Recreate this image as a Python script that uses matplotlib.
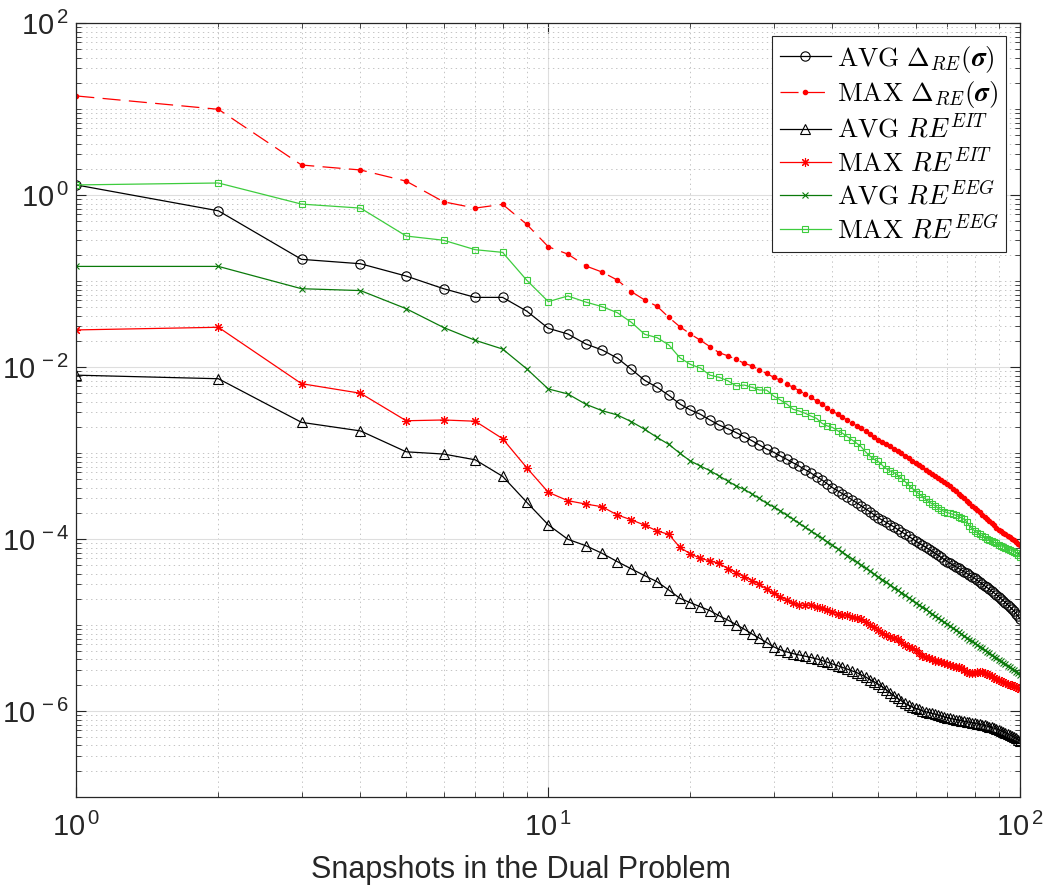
import numpy as np
import matplotlib
matplotlib.use("Agg")
import matplotlib.pyplot as plt
from matplotlib.ticker import FixedLocator, NullFormatter

plt.rcParams["font.family"] = ["Liberation Sans", "DejaVu Sans"]
plt.rcParams["mathtext.fontset"] = "cm"
plt.rcParams["lines.scale_dashes"] = False

# Number of snapshots used in the dual problem
snapshots = np.arange(1, 101)

avg_delta = [1.32, 0.66, 0.18, 0.16, 0.115, 0.082, 0.065, 0.065, 0.045, 0.0284,
             0.0244, 0.0187, 0.0159, 0.0128, 0.00947, 0.00705, 0.00585, 0.00472, 0.00374, 0.00319,
             0.00284, 0.00244, 0.00213, 0.00193, 0.00174, 0.00156, 0.00140, 0.00125, 0.00112, 0.00103,
             9.33e-4, 8.51e-4, 7.76e-4, 7.08e-4, 6.46e-4, 5.89e-4, 5.37e-4, 4.90e-4, 4.42e-4, 3.98e-4,
             3.67e-4, 3.39e-4, 3.13e-4, 2.88e-4, 2.66e-4, 2.45e-4, 2.26e-4, 2.09e-4, 1.93e-4, 1.78e-4,
             1.67e-4, 1.57e-4, 1.48e-4, 1.39e-4, 1.30e-4, 1.22e-4, 1.15e-4, 1.08e-4, 1.02e-4, 9.55e-5,
             9.03e-5, 8.55e-5, 8.09e-5, 7.66e-5, 7.24e-5, 6.85e-5, 6.49e-5, 6.14e-5, 5.81e-5, 5.50e-5,
             5.25e-5, 5.02e-5, 4.81e-5, 4.59e-5, 4.40e-5, 4.20e-5, 4.02e-5, 3.84e-5, 3.67e-5, 3.51e-5,
             3.34e-5, 3.18e-5, 3.03e-5, 2.88e-5, 2.75e-5, 2.62e-5, 2.49e-5, 2.38e-5, 2.26e-5, 2.15e-5,
             2.04e-5, 1.94e-5, 1.83e-5, 1.74e-5, 1.64e-5, 1.55e-5, 1.46e-5, 1.36e-5, 1.27e-5, 1.17e-5]

max_delta = [14.3, 10.0, 2.25, 1.97, 1.46, 0.84, 0.71, 0.785, 0.46, 0.252,
             0.207, 0.151, 0.128, 0.1035, 0.0757, 0.0607, 0.0512, 0.0381, 0.0296, 0.0244,
             0.0206, 0.0174, 0.0148, 0.0136, 0.0124, 0.0111, 0.0104, 0.0093, 0.0085, 0.00766,
             0.00708, 0.00638, 0.00585, 0.00535, 0.0049, 0.00447, 0.00407, 0.00372, 0.00339, 0.00310,
             0.00285, 0.00263, 0.00243, 0.00225, 0.00209, 0.00195, 0.00180, 0.00166, 0.00154, 0.00143,
             0.00135, 0.00127, 0.00120, 0.00112, 0.00106, 0.00100, 9.33e-4, 8.71e-4, 8.13e-4, 7.66e-4,
             7.24e-4, 6.84e-4, 6.46e-4, 6.10e-4, 5.75e-4, 5.46e-4, 5.15e-4, 4.88e-4, 4.60e-4, 4.36e-4,
             4.11e-4, 3.87e-4, 3.63e-4, 3.40e-4, 3.19e-4, 2.99e-4, 2.81e-4, 2.63e-4, 2.47e-4, 2.31e-4,
             2.18e-4, 2.06e-4, 1.94e-4, 1.83e-4, 1.73e-4, 1.63e-4, 1.54e-4, 1.45e-4, 1.37e-4, 1.29e-4,
             1.24e-4, 1.19e-4, 1.14e-4, 1.10e-4, 1.05e-4, 1.01e-4, 9.68e-5, 9.29e-5, 8.91e-5, 8.57e-5]

avg_eit = [0.0081, 0.00736, 0.00229, 0.00182, 0.00104, 0.00098, 0.00084, 0.00054, 0.00027, 1.47e-4,
           1.0e-4, 8.43e-5, 6.87e-5, 5.5e-5, 4.52e-5, 3.78e-5, 3.21e-5, 2.57e-5, 2.06e-5, 1.83e-5,
           1.64e-5, 1.48e-5, 1.29e-5, 1.15e-5, 1.02e-5, 9.02e-6, 7.94e-6, 7.08e-6, 6.31e-6, 5.62e-6,
           5.19e-6, 4.90e-6, 4.68e-6, 4.52e-6, 4.37e-6, 4.22e-6, 4.07e-6, 3.89e-6, 3.72e-6, 3.55e-6,
           3.39e-6, 3.24e-6, 3.09e-6, 2.95e-6, 2.82e-6, 2.66e-6, 2.51e-6, 2.34e-6, 2.21e-6, 2.07e-6,
           1.93e-6, 1.78e-6, 1.64e-6, 1.51e-6, 1.41e-6, 1.32e-6, 1.24e-6, 1.17e-6, 1.12e-6, 1.08e-6,
           1.05e-6, 1.01e-6, 9.89e-7, 9.66e-7, 9.44e-7, 9.23e-7, 9.02e-7, 8.81e-7, 8.61e-7, 8.41e-7,
           8.26e-7, 8.13e-7, 8.00e-7, 7.87e-7, 7.76e-7, 7.66e-7, 7.55e-7, 7.45e-7, 7.35e-7, 7.24e-7,
           7.14e-7, 7.05e-7, 6.95e-7, 6.84e-7, 6.73e-7, 6.61e-7, 6.49e-7, 6.35e-7, 6.22e-7, 6.10e-7,
           5.94e-7, 5.78e-7, 5.62e-7, 5.47e-7, 5.31e-7, 5.15e-7, 5.01e-7, 4.84e-7, 4.68e-7, 4.47e-7]

max_eit = [0.0272, 0.0292, 0.00645, 0.00499, 0.00239, 0.00244, 0.00236, 0.00148, 0.00068, 3.52e-4,
           2.81e-4, 2.57e-4, 2.39e-4, 1.92e-4, 1.68e-4, 1.46e-4, 1.25e-4, 1.14e-4, 8.07e-5, 6.75e-5,
           6.01e-5, 5.60e-5, 5.26e-5, 4.55e-5, 4.09e-5, 3.67e-5, 3.30e-5, 3.02e-5, 2.62e-5, 2.36e-5,
           2.15e-5, 1.97e-5, 1.80e-5, 1.70e-5, 1.72e-5, 1.72e-5, 1.62e-5, 1.57e-5, 1.51e-5, 1.43e-5,
           1.37e-5, 1.33e-5, 1.30e-5, 1.26e-5, 1.22e-5, 1.17e-5, 1.10e-5, 1.01e-5, 9.44e-6, 8.81e-6,
           8.22e-6, 7.76e-6, 7.33e-6, 7.08e-6, 6.84e-6, 6.31e-6, 5.82e-6, 5.62e-6, 5.50e-6, 5.19e-6,
           4.79e-6, 4.42e-6, 4.27e-6, 4.17e-6, 4.07e-6, 3.89e-6, 3.80e-6, 3.72e-6, 3.63e-6, 3.55e-6,
           3.47e-6, 3.39e-6, 3.31e-6, 3.24e-6, 3.16e-6, 3.02e-6, 2.88e-6, 2.79e-6, 2.75e-6, 2.79e-6,
           2.85e-6, 2.88e-6, 2.85e-6, 2.79e-6, 2.72e-6, 2.63e-6, 2.54e-6, 2.45e-6, 2.37e-6, 2.32e-6,
           2.26e-6, 2.21e-6, 2.14e-6, 2.09e-6, 2.04e-6, 2.00e-6, 1.95e-6, 1.91e-6, 1.86e-6, 1.80e-6]

avg_eeg = [0.149, 0.149, 0.082, 0.078, 0.048, 0.029, 0.0206, 0.0163, 0.0096, 0.0056,
           0.0049, 0.00372, 0.00313, 0.00279, 0.00233, 0.0019, 0.00153, 0.00127, 0.00100, 8.13e-4,
           7.11e-4, 6.28e-4, 5.45e-4, 4.76e-4, 4.17e-4, 3.81e-4, 3.36e-4, 3.00e-4, 2.62e-4, 2.39e-4,
           2.14e-4, 1.91e-4, 1.71e-4, 1.53e-4, 1.38e-4, 1.25e-4, 1.13e-4, 1.03e-4, 9.33e-5, 8.51e-5,
           7.76e-5, 7.08e-5, 6.47e-5, 5.94e-5, 5.46e-5, 5.02e-5, 4.62e-5, 4.28e-5, 3.95e-5, 3.66e-5,
           3.40e-5, 3.16e-5, 2.94e-5, 2.74e-5, 2.55e-5, 2.39e-5, 2.23e-5, 2.09e-5, 1.96e-5, 1.84e-5,
           1.73e-5, 1.63e-5, 1.53e-5, 1.44e-5, 1.36e-5, 1.28e-5, 1.21e-5, 1.15e-5, 1.08e-5, 1.03e-5,
           9.73e-6, 9.23e-6, 8.77e-6, 8.32e-6, 7.91e-6, 7.53e-6, 7.16e-6, 6.82e-6, 6.50e-6, 6.19e-6,
           5.92e-6, 5.65e-6, 5.40e-6, 5.15e-6, 4.93e-6, 4.72e-6, 4.52e-6, 4.33e-6, 4.14e-6, 3.97e-6,
           3.81e-6, 3.66e-6, 3.51e-6, 3.37e-6, 3.24e-6, 3.11e-6, 2.99e-6, 2.88e-6, 2.77e-6, 2.67e-6]

max_eeg = [1.32, 1.39, 0.79, 0.71, 0.336, 0.30, 0.233, 0.217, 0.103, 0.058,
           0.0675, 0.0574, 0.0507, 0.0432, 0.0333, 0.0242, 0.0221, 0.0182, 0.0129, 0.0108,
           0.0098, 0.0081, 0.00765, 0.00698, 0.00607, 0.00622, 0.00585, 0.00544, 0.00544, 0.00464,
           0.00417, 0.00374, 0.00325, 0.00310, 0.00292, 0.00271, 0.00255, 0.00223, 0.00208, 0.00200,
           0.00183, 0.00171, 0.00156, 0.00143, 0.00131, 0.00119, 0.00104, 9.3e-4, 8.5e-4, 8.04e-4,
           7.24e-4, 6.62e-4, 6.22e-4, 5.95e-4, 5.55e-4, 5.12e-4, 4.68e-4, 4.28e-4, 3.92e-4, 3.58e-4,
           3.37e-4, 3.13e-4, 2.94e-4, 2.74e-4, 2.58e-4, 2.44e-4, 2.29e-4, 2.19e-4, 2.10e-4, 2.04e-4,
           2.00e-4, 1.95e-4, 1.90e-4, 1.83e-4, 1.78e-4, 1.71e-4, 1.60e-4, 1.43e-4, 1.32e-4, 1.26e-4,
           1.19e-4, 1.14e-4, 1.10e-4, 1.05e-4, 1.02e-4, 9.82e-5, 9.55e-5, 9.23e-5, 8.98e-5, 8.65e-5,
           8.43e-5, 8.20e-5, 7.98e-5, 7.78e-5, 7.57e-5, 7.36e-5, 7.18e-5, 6.93e-5, 6.62e-5, 6.18e-5]

x_major = [1, 10, 100]
x_major_labels = [r"$\mathdefault{10^{\,0}}$", r"$\mathdefault{10^{\,1}}$", r"$\mathdefault{10^{\,2}}$"]
y_major = [1e-6, 1e-4, 1e-2, 1e0, 1e2]
y_major_labels = [r"$\mathdefault{10^{\,-6}}$", r"$\mathdefault{10^{\,-4}}$", r"$\mathdefault{10^{\,-2}}$",
                  r"$\mathdefault{10^{\,0}}$", r"$\mathdefault{10^{\,2}}$"]

labels = [r"$\mathrm{AVG}\ \Delta_{RE}(\boldsymbol{\sigma})$",
          r"$\mathrm{MAX}\ \Delta_{RE}(\boldsymbol{\sigma})$",
          r"$\mathrm{AVG}\ RE^{EIT}$",
          r"$\mathrm{MAX}\ RE^{EIT}$",
          r"$\mathrm{AVG}\ RE^{EEG}$",
          r"$\mathrm{MAX}\ RE^{EEG}$"]

BLACK = "#000000"
RED = "#ff0000"
DKGREEN = "#0a7a0a"
LTGREEN = "#3dcc3d"
ASTERISK = (8, 2, 0)

fig = plt.figure(figsize=(10.48, 8.93), dpi=100)
ax = fig.add_axes([0.0728, 0.1072, 0.9008, 0.8667])

lw = 0.9
mew = 0.8
ax.plot(snapshots, avg_delta, color=BLACK, lw=lw, marker="o", ms=6.7, mfc="none", mew=mew, label=labels[0])
ax.plot(snapshots, max_delta, color=RED, lw=lw, ls=(0, (13, 6)), marker=".", ms=6, label=labels[1])
ax.plot(snapshots, avg_eit, color=BLACK, lw=lw, marker="^", ms=7.2, mfc="none", mew=mew, label=labels[2])
ax.plot(snapshots, max_eit, color=RED, lw=lw, marker=ASTERISK, ms=6.5, mew=mew, label=labels[3])
ax.plot(snapshots, avg_eeg, color=DKGREEN, lw=lw, marker="x", ms=5, mew=mew, label=labels[4])
ax.plot(snapshots, max_eeg, color=LTGREEN, lw=lw, marker="s", ms=4.6, mfc="none", mew=mew, label=labels[5])

ax.set_xscale("log")
ax.set_yscale("log")
ax.set_xlim(1, 100)
ax.set_ylim(1e-7, 1e2)

# ticks: every decade on x, every second decade labelled on y
ax.xaxis.set_major_locator(FixedLocator(x_major))
ax.set_xticklabels(x_major_labels)
x_minor = [m * 10.0 ** d for d in range(0, 2) for m in range(2, 10)]
ax.xaxis.set_minor_locator(FixedLocator(x_minor))
ax.xaxis.set_minor_formatter(NullFormatter())

ax.yaxis.set_major_locator(FixedLocator(y_major))
ax.set_yticklabels(y_major_labels)
y_minor = [m * 10.0 ** d for d in range(-7, 2) for m in range(1, 10)
           if not (m == 1 and d % 2 == 0)]
ax.yaxis.set_minor_locator(FixedLocator(y_minor))
ax.yaxis.set_minor_formatter(NullFormatter())

ax.tick_params(which="both", direction="in", top=True, right=True, color="#262626")
ax.tick_params(which="major", length=7, width=0.8, labelsize=21, labelcolor="#262626")
ax.tick_params(axis="y", which="major", pad=5)
ax.tick_params(axis="x", which="major", pad=11)
ax.tick_params(which="minor", length=3.5, width=0.6)

ax.grid(True, which="major", color="#dedede", lw=0.8, ls="-")
ax.grid(True, which="minor", color="#c4c4c4", lw=0.7, ls=(0, (1, 2.5)))
ax.set_axisbelow(True)
for s in ax.spines.values():
    s.set_color("#262626")
    s.set_linewidth(0.9)

ax.set_xlabel("Snapshots in the Dual Problem", fontsize=22, color="#262626")
ax.xaxis.set_label_coords(0.471, -0.075)

leg = ax.legend(loc="upper right", bbox_to_anchor=(0.985, 0.984), borderaxespad=0,
                fontsize=19.5, numpoints=1, handlelength=1.9, handletextpad=0.2,
                labelspacing=0.17, borderpad=0.3, fancybox=False, framealpha=1,
                edgecolor="#262626")
leg.get_frame().set_linewidth(0.8)

fig.savefig("out.png", dpi=100)
